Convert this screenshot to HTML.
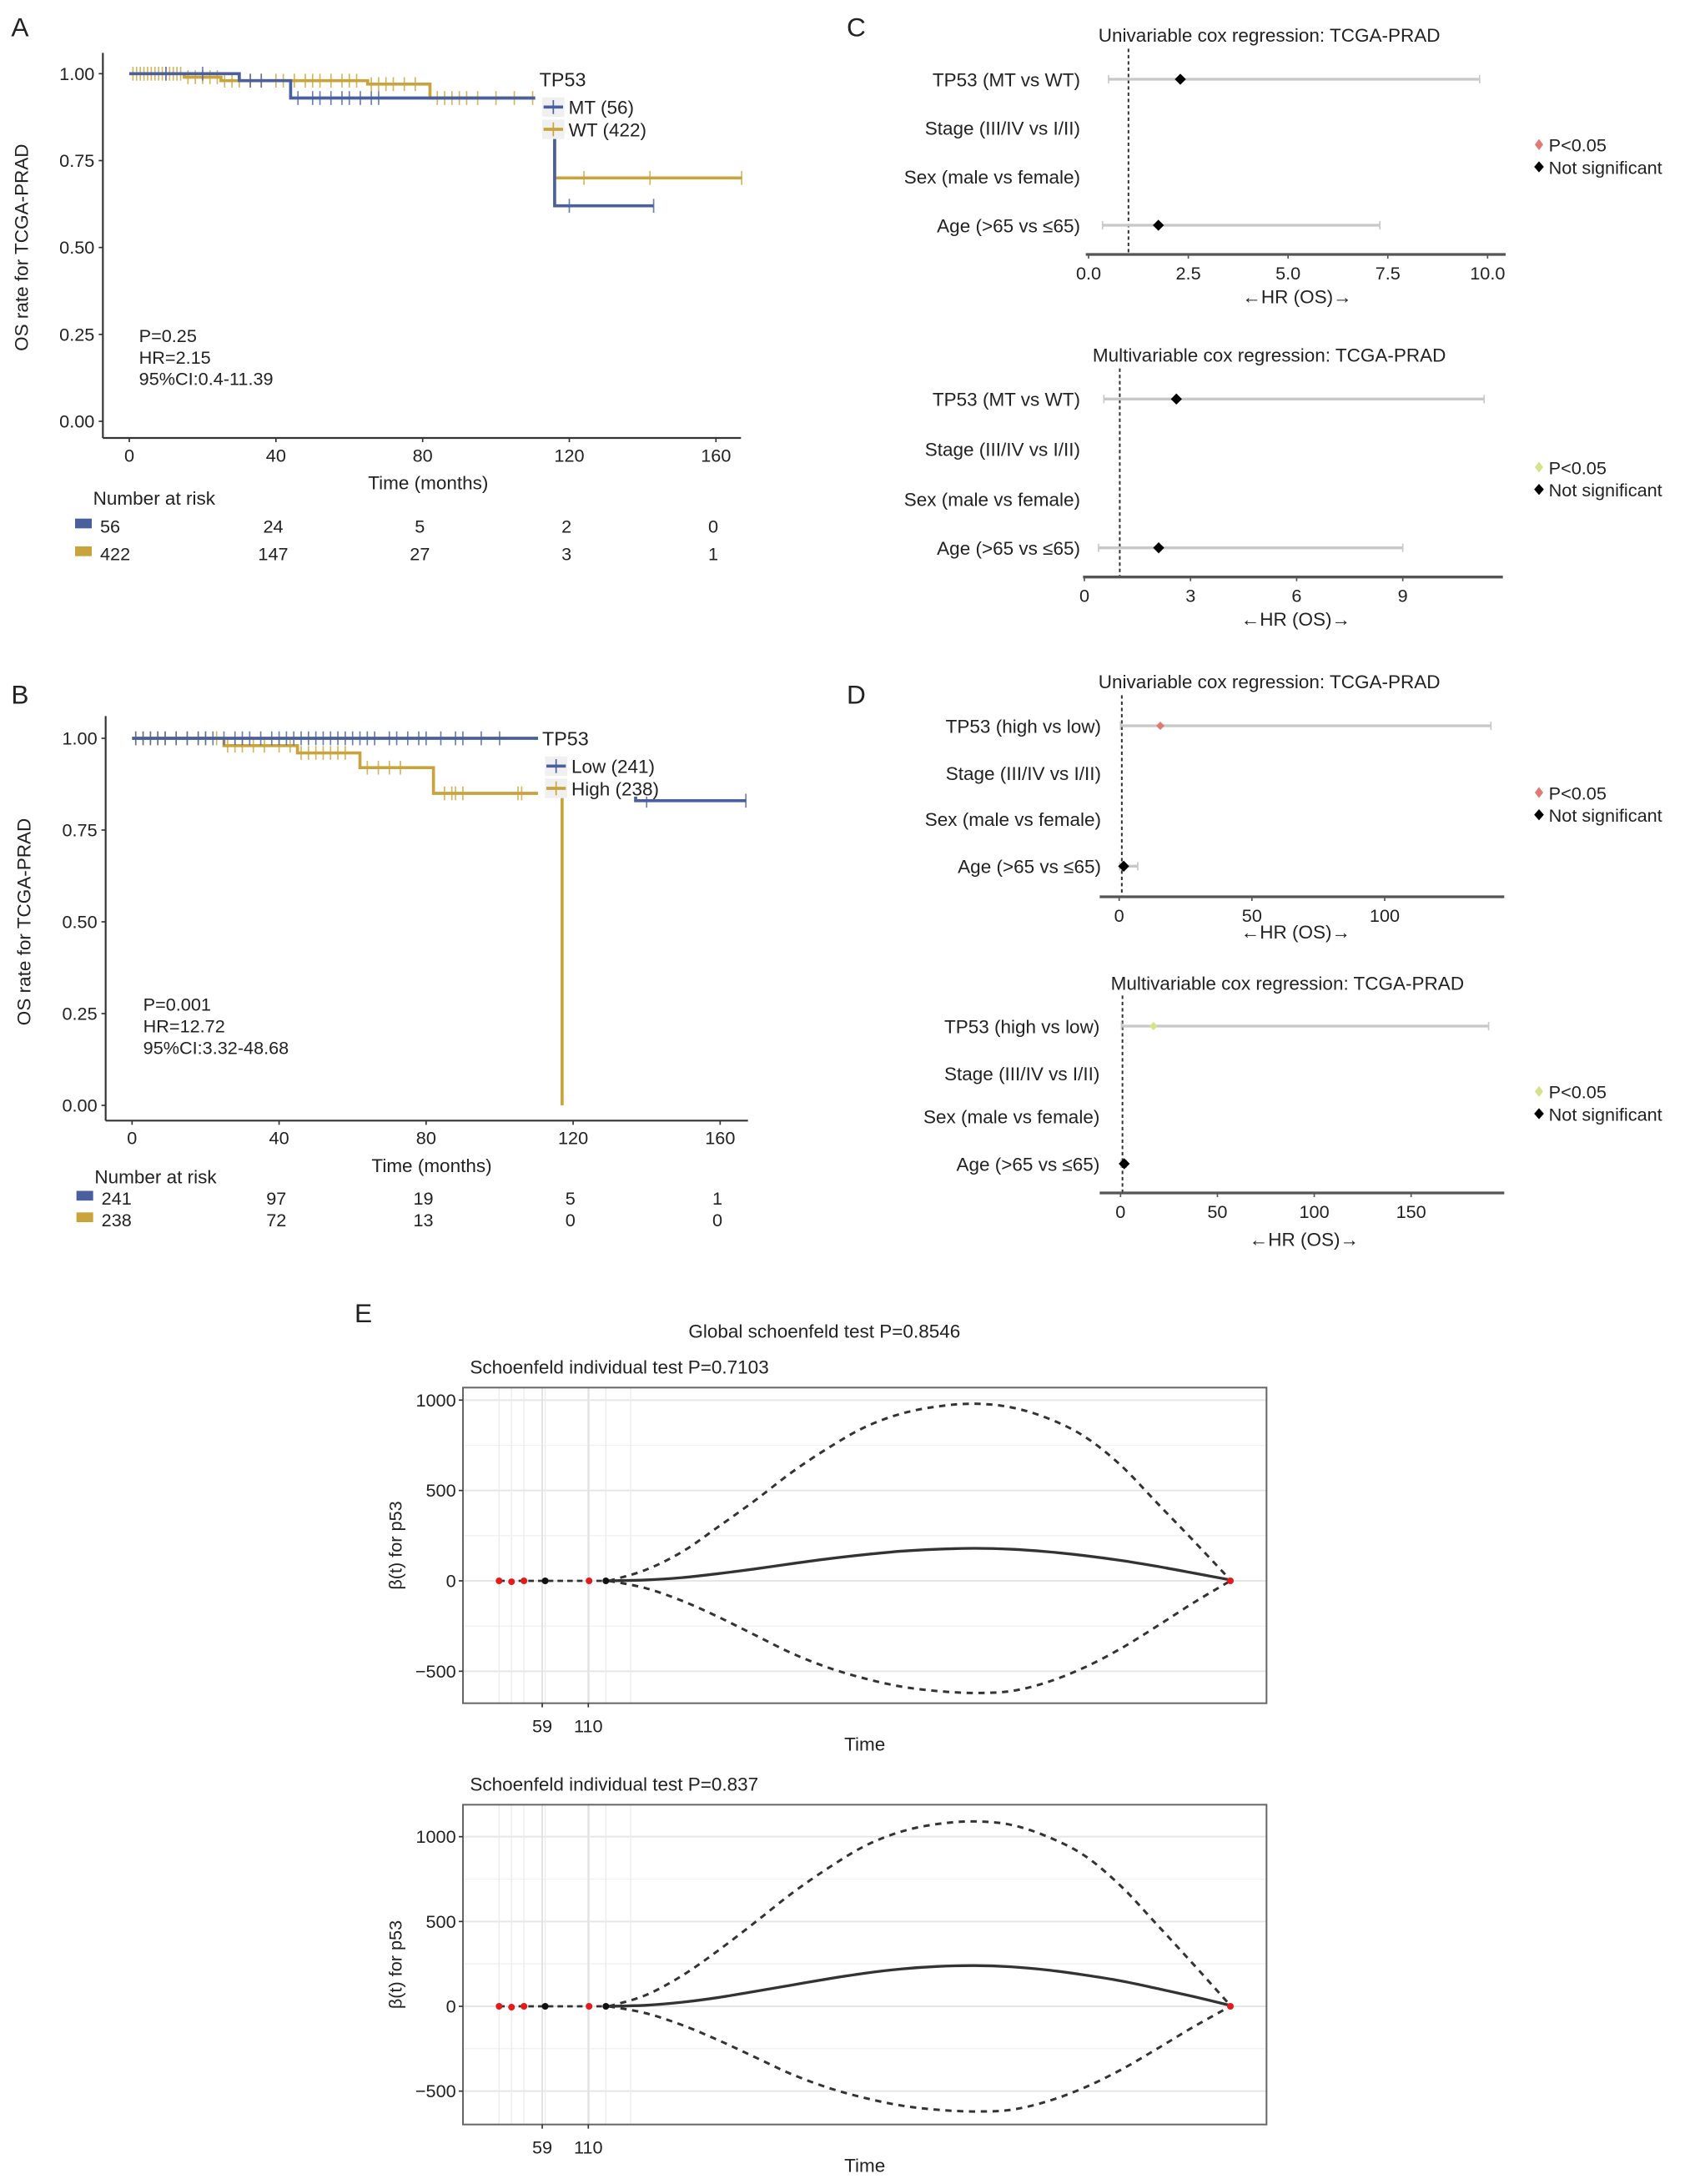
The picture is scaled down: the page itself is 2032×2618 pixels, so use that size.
<!DOCTYPE html>
<html><head><meta charset="utf-8">
<style>
html,body{margin:0;padding:0;background:#fff;}
svg{display:block;font-family:"Liberation Sans",Arial,sans-serif;}
</style></head>
<body>
<svg id="fig" width="2032" height="2618" viewBox="0 0 1219.2 1570.8" preserveAspectRatio="none" xmlns="http://www.w3.org/2000/svg">
<rect width="1219.2" height="1570.8" fill="#fff"/>
<g id="root"></g>
</svg>
<script>
// ===== Panel A data =====
const aTicksX=[0,40,80,120,160];
const aTicksY=[0,0.25,0.5,0.75,1];
const aMtT=[0,30,44,116,143];
const aMtS=[1,0.98,0.93,0.62,0.62];
const aWtT=[0,15,25,65,82,116,167];
const aWtS=[1,0.99,0.98,0.97,0.93,0.70,0.70];
const aMtCens=[10,20,33,36,46,50,52,55,58,60,63,66,68,120,143];
const aWtCens=[1,2,3,4,5,6,7,8,9,10,11,12,13,14,16,18,20,22,24,26,28,30,33,36,40,42,45,48,50,52,55,58,60,62,66,68,70,72,75,78,84,86,88,90,92,95,100,105,110,124,142,167];
const aRiskMt=[56,24,5,2,0];
const aRiskWt=[422,147,27,3,1];
// ===== Panel B data =====
const bLowT=[0,137,167];
const bLowS=[1,0.83,0.83];
const bHighT=[0,25,45,62,82,117,117];
const bHighS=[1,0.98,0.96,0.92,0.85,0.85,0];
const bLowCens=[1,3,5,7,9,12,15,18,20,22,25,28,30,32,35,38,40,42,44,46,48,50,52,54,56,58,60,62,64,66,70,72,75,78,80,84,88,90,95,100,140,167];
const bHighCens=[1,3,5,7,9,12,15,18,20,23,26,28,30,33,36,40,43,46,48,50,52,54,56,58,64,67,70,73,85,87,88,90,105,106];
const bRiskLow=[241,97,19,5,1];
const bRiskHigh=[238,72,13,0,0];
// ===== Forest data =====
const forestLabelsC=["TP53 (MT vs WT)","Stage (III/IV vs I/II)","Sex (male vs female)","Age (>65 vs \u226465)"];
const forestLabelsD=["TP53 (high vs low)","Stage (III/IV vs I/II)","Sex (male vs female)","Age (>65 vs \u226465)"];
const cUniHR=[2.3,null,null,1.75]; const cUniLo=[0.5,null,null,0.35]; const cUniHi=[9.8,null,null,7.3];
const cMulHR=[2.6,null,null,2.1]; const cMulLo=[0.55,null,null,0.4]; const cMulHi=[11.3,null,null,9.0];
const dUniHR=[15.5,null,null,1.7]; const dUniLo=[0.5,null,null,0.2]; const dUniHi=[140,null,null,7]; const dUniSig=[true,false,false,false];
const dMulHR=[17,null,null,1.9]; const dMulLo=[0.5,null,null,0.2]; const dMulHi=[190,null,null,3]; const dMulSig=[true,false,false,false];
// ===== Schoenfeld data =====
const eT=[15,20,25,30,35,40,45,50,55,60,65,70,75,80,85,90,95,100];
const e1Fit=[0,5,18,40,66,95,122,145,164,175,180,175,161,140,113,80,43,5];
const e1Up=[0,60,160,300,445,600,735,850,925,965,980,960,900,800,640,430,220,5];
const e1Lo=[0,-40,-110,-200,-300,-400,-480,-540,-585,-610,-620,-610,-560,-480,-375,-250,-120,0];
const e2Fit=[0,6,24,52,88,125,162,195,220,235,240,233,214,185,150,105,57,5];
const e2Up=[0,65,180,330,495,665,815,945,1030,1075,1090,1070,1000,890,710,480,245,5];
const e2Lo=[0,-40,-110,-200,-300,-400,-480,-540,-585,-610,-620,-610,-560,-480,-375,-250,-120,0];
const ePtsT=[0,1.7,3.4,6.3,12.3,14.6,100];
const ePtsV=[0,-5,0,0,0,0,0];
const ePtsRed=[true,true,true,false,true,false,true];
const eTickPos=[5.9,12.2]; const eTickLab=["59","110"];
const eYTicks=[-500,0,500,1000];

const NS="http://www.w3.org/2000/svg";
const root=document.getElementById('root');
function el(tag,attrs,parent,text){const e=document.createElementNS(NS,tag);for(const k in attrs)e.setAttribute(k,attrs[k]);if(text!==undefined)e.textContent=text;(parent||root).appendChild(e);return e;}
function txt(x,y,s,size,anchor,parent,extra){const t=el('text',Object.assign({x:x,y:y,'font-size':size,'text-anchor':anchor||'start',fill:'#222'},extra||{}),parent,s);return t;}
function lin(d0,d1,r0,r1){return v=>r0+(v-d0)/(d1-d0)*(r1-r0);}

const BLUE="#4a5f9e", GOLD="#c9a43c";

function km(cfg){
  const g=el('g',{},root);
  
  
  const X=lin(0,160,cfg.x0,cfg.x160), Y=lin(0,1,cfg.y0,cfg.y1);
  txt(cfg.lx,cfg.ly,cfg.letter,19,'start',g);
  const ax=el('line',{x1:cfg.axX,y1:cfg.axTop,x2:cfg.axX,y2:cfg.axY,stroke:'#333','stroke-width':1.3},g);
  
  const bx=el('line',{x1:cfg.axX,y1:cfg.axY,x2:cfg.axEnd,y2:cfg.axY,stroke:'#333','stroke-width':1.3},g);
  
  aTicksY.forEach(v=>{el('line',{x1:cfg.axX-3,x2:cfg.axX,y1:Y(v),y2:Y(v),stroke:'#333'},g);const t=txt(cfg.axX-6,Y(v)+4.5,v.toFixed(2),13,'end',g);});
  aTicksX.forEach(v=>{el('line',{x1:X(v),x2:X(v),y1:cfg.axY,y2:cfg.axY+3,stroke:'#333'},g);const t=txt(X(v),cfg.axY+17,String(v),13,'middle',g);});
  const xt=txt((cfg.x0+cfg.x160)/2+4,cfg.axY+37,'Time (months)',13.5,'middle',g);
  const yt=txt(0,0,'OS rate for TCGA-PRAD',13.5,'middle',g,{transform:`translate(${cfg.axX-54},${(Y(0)+Y(1))/2}) rotate(-90)`});
  function step(T,S,col,name,cens){
    let d=`M${X(T[0])},${Y(S[0])}`;
    for(let i=1;i<T.length;i++){d+=` H${X(T[i])} V${Y(S[i])}`;}
    const p=el('path',{d:d,fill:'none',stroke:col,'stroke-width':2.2},g);
    
    cens.forEach(t=>{let s=S[0];for(let i=0;i<T.length;i++){if(T[i]<=t)s=S[i];}
      if(t>=T[T.length-1]&&s===0)return;
      const m=el('line',{x1:X(t),x2:X(t),y1:Y(s)-5,y2:Y(s)+5,stroke:col,'stroke-width':1,opacity:0.8},g);
      });
  }
  step(cfg.t2,cfg.s2,GOLD,cfg.n2+'-curve',cfg.c2);
  step(cfg.t1,cfg.s1,BLUE,cfg.n1+'-curve',cfg.c1);
  const lg=el('g',{},g);
  el('rect',{x:cfg.legX-3,y:cfg.legY-15,width:cfg.legW,height:cfg.legH,fill:'#fff'},lg);
  txt(cfg.legX,cfg.legY,'TP53',14,'start',lg);
  [[BLUE,cfg.leg1],[GOLD,cfg.leg2]].forEach((e,i)=>{const yy=cfg.legY+14+i*16;
    el('rect',{x:cfg.legX+2,y:yy-6,width:16,height:14,fill:'#f0f0f0'},lg);
    el('line',{x1:cfg.legX+3,x2:cfg.legX+17,y1:yy+1,y2:yy+1,stroke:e[0],'stroke-width':2.2},lg);
    el('line',{x1:cfg.legX+10,x2:cfg.legX+10,y1:yy-4,y2:yy+6,stroke:e[0],'stroke-width':1},lg);
    const t=txt(cfg.legX+21,yy+6,e[1],13.5,'start',lg);});
  cfg.stats.forEach((s,i)=>txt(cfg.stX,cfg.stY+i*15.5,s,13,'start',g));
  txt(cfg.rkX,cfg.rkY,'Number at risk',13.5,'start',g);
  [[BLUE,cfg.r1],[GOLD,cfg.r2]].forEach((e,i)=>{const yy=cfg.rkY+cfg.rkDy*(i+1);
    el('rect',{x:cfg.rkX-13,y:yy-10,width:12,height:7,fill:e[0]},g);
    e[1].forEach((v,j)=>{const t=txt(j===0?cfg.rkX+5:X(aTicksX[j])-2,yy,String(v),13,j===0?'start':'middle',g);});});
}
km({name:'panel-a-km',letter:'A',lx:8,ly:26,x0:93,x160:515,y0:303,y1:53,axX:74,axTop:38,axY:315,axEnd:533,
 t1:aMtT,s1:aMtS,c1:aMtCens,n1:'mt',t2:aWtT,s2:aWtS,c2:aWtCens,n2:'wt',legX:388,legY:62,legW:92,legH:52,leg1:'MT (56)',leg2:'WT (422)',
 stats:['P=0.25','HR=2.15','95%CI:0.4-11.39'],stX:100,stY:246,rkX:67,rkY:363,rkDy:20,r1:aRiskMt,r2:aRiskWt});
km({name:'panel-b-km',letter:'B',lx:8,ly:506,x0:95,x160:518,y0:795,y1:531,axX:76,axTop:515,axY:806,axEnd:538,
 t1:bLowT,s1:bLowS,c1:bLowCens,n1:'low',t2:bHighT,s2:bHighS,c2:bHighCens,n2:'high',legX:390,legY:536,legW:94,legH:52,leg1:'Low (241)',leg2:'High (238)',
 stats:['P=0.001','HR=12.72','95%CI:3.32-48.68'],stX:103,stY:727,rkX:68,rkY:851,rkDy:15.5,r1:bRiskLow,r2:bRiskHigh});

function forest(cfg){
  const g=el('g',{},root);
  
  
  const X=lin(cfg.ticks[0],cfg.ticks[cfg.ticks.length-1],cfg.tx0,cfg.tx1);
  const t0=txt(cfg.titleX,cfg.titleY,cfg.title,13.5,'middle',g);
  cfg.labels.forEach((l,i)=>{const t=txt(cfg.labX,cfg.rows[i]+5,l,13.5,'end',g);});
  el('line',{x1:X(1),x2:X(1),y1:cfg.rows[0]-22,y2:cfg.axY,stroke:'#333','stroke-width':1.2,'stroke-dasharray':'2.5,2'},g);
  cfg.hr.forEach((h,i)=>{if(h===null)return;const y=cfg.rows[i];
    const ci=el('line',{x1:X(cfg.lo[i]),x2:X(cfg.hi[i]),y1:y,y2:y,stroke:'#c8c8c8','stroke-width':2},g);
    [cfg.lo[i],cfg.hi[i]].forEach(v=>el('line',{x1:X(v),x2:X(v),y1:y-3,y2:y+3,stroke:'#c8c8c8','stroke-width':1},g));
    const col=cfg.sig&&cfg.sig[i]?cfg.sigCol:'#000';const r=cfg.sig&&cfg.sig[i]?3:4;
    const p=el('path',{d:`M${X(h)},${y-r} L${X(h)+r},${y} L${X(h)},${y+r} L${X(h)-r},${y}Z`,fill:col},g);});
  const ax=el('line',{x1:cfg.ax0,x2:cfg.ax1,y1:cfg.axY,y2:cfg.axY,stroke:'#555','stroke-width':2},g);
  cfg.ticks.forEach((v,i)=>{el('line',{x1:X(v),x2:X(v),y1:cfg.axY,y2:cfg.axY+3,stroke:'#555'},g);const t=txt(X(v),cfg.axY+18,cfg.tickLab[i],13,'middle',g);});
  const xl=txt(cfg.xlX,cfg.xlY,'\u2190HR (OS)\u2192',13.5,'middle',g);
  const lg=el('g',{},g);
  el('path',{d:`M${cfg.legX},${cfg.legY-8} l3,4 l-3,4 l-3,-4z`,fill:cfg.sigCol},lg);
  txt(cfg.legX+7,cfg.legY+1,'P<0.05',13,'start',lg);
  el('path',{d:`M${cfg.legX},${cfg.legY+8} l3.5,4 l-3.5,4 l-3.5,-4z`,fill:'#000'},lg);
  txt(cfg.legX+7,cfg.legY+17,'Not significant',13,'start',lg);
}
forest({name:'c-univariable-forest',title:'Univariable cox regression: TCGA-PRAD',titleX:913,titleY:30,labels:forestLabelsC,labX:777,rows:[57,92,127,162],
 ticks:[0,2.5,5,7.5,10],tickLab:['0.0','2.5','5.0','7.5','10.0'],tx0:783,tx1:1070,ax0:781,ax1:1083,axY:183,hr:cUniHR,lo:cUniLo,hi:cUniHi,sig:null,sigCol:'#e07a74',xlX:933,xlY:218,legX:1107,legY:108});
forest({name:'c-multivariable-forest',title:'Multivariable cox regression: TCGA-PRAD',titleX:913,titleY:260,labels:forestLabelsC,labX:777,rows:[287,323,359,394],
 ticks:[0,3,6,9],tickLab:['0','3','6','9'],tx0:780,tx1:1009,ax0:779,ax1:1081,axY:415,hr:cMulHR,lo:cMulLo,hi:cMulHi,sig:null,sigCol:'#d8e28a',xlX:932,xlY:450,legX:1107,legY:340});
forest({name:'d-univariable-forest',title:'Univariable cox regression: TCGA-PRAD',titleX:913,titleY:495,labels:forestLabelsD,labX:792,rows:[522,556,589,623],
 ticks:[0,50,100],tickLab:['0','50','100'],tx0:805,tx1:996,ax0:791,ax1:1082,axY:645,hr:dUniHR,lo:dUniLo,hi:dUniHi,sig:dUniSig,sigCol:'#e07a74',xlX:932,xlY:675,legX:1107,legY:574});
forest({name:'d-multivariable-forest',title:'Multivariable cox regression: TCGA-PRAD',titleX:926,titleY:712,labels:forestLabelsD,labX:791,rows:[738,772,803,837],
 ticks:[0,50,100,150],tickLab:['0','50','100','150'],tx0:806,tx1:1015,ax0:791,ax1:1082,axY:858,hr:dMulHR,lo:dMulLo,hi:dMulHi,sig:dMulSig,sigCol:'#d8e28a',xlX:938,xlY:896,legX:1107,legY:789});
txt(609,26,'C',19,'start');
txt(609,506,'D',19,'start');

txt(255,951,'E',19,'start');
const gt=txt(593,962,'Global schoenfeld test P=0.8546',13.5,'middle');
function smooth(pts){let d=`M${pts[0][0]},${pts[0][1]}`;for(let i=0;i<pts.length-1;i++){const p0=pts[i-1]||pts[i],p1=pts[i],p2=pts[i+1],p3=pts[i+2]||p2;
  d+=` C${p1[0]+(p2[0]-p0[0])/6},${p1[1]+(p2[1]-p0[1])/6} ${p2[0]-(p3[0]-p1[0])/6},${p2[1]-(p3[1]-p1[1])/6} ${p2[0]},${p2[1]}`;}return d;}
function schoen(cfg){
  const g=el('g',{},root);
  
  
  const X=lin(0,100,359,885), Y=lin(0,1000,cfg.y0,cfg.y1000);
  const t=txt(338,cfg.titleY,cfg.title,13.5,'start',g);
  for(let v=-750;v<=1000;v+=250){const y=Y(v);if(y<cfg.top||y>cfg.bot)continue;el('line',{x1:333,x2:911,y1:y,y2:y,stroke:v%500===0?'#e6e6e6':'#f1f1f1','stroke-width':v%500===0?1.2:0.8},g);}
  ePtsT.slice(0,6).concat([18]).forEach(v=>el('line',{x1:X(v),x2:X(v),y1:cfg.top,y2:cfg.bot,stroke:'#ececec','stroke-width':0.8},g));
  eTickPos.forEach(v=>el('line',{x1:X(v),x2:X(v),y1:cfg.top,y2:cfg.bot,stroke:'#e2e2e2','stroke-width':1.2},g));
  const fr=el('rect',{x:333,y:cfg.top,width:578,height:cfg.bot-cfg.top,fill:'none',stroke:'#666','stroke-width':1.2},g);
  eYTicks.forEach(v=>{el('line',{x1:330,x2:333,y1:Y(v),y2:Y(v),stroke:'#333'},g);const tt=txt(328,Y(v)+4.5,v<0?'\u2212'+Math.abs(v):String(v),13,'end',g);});
  eTickPos.forEach((v,i)=>{el('line',{x1:X(v),x2:X(v),y1:cfg.bot,y2:cfg.bot+3,stroke:'#333'},g);const tt=txt(X(v),cfg.bot+21,eTickLab[i],13,'middle',g);});
  const xt=txt(622,cfg.bot+34,'Time',13.5,'middle',g);
  const yt=txt(0,0,'\u03B2(t) for p53',13,'middle',g,{transform:`translate(${289},${(cfg.top+cfg.bot)/2}) rotate(-90)`});
  el('line',{x1:X(0),x2:X(15),y1:Y(0),y2:Y(0),stroke:'#333','stroke-width':1.6,'stroke-dasharray':'4,3'},g);
  [[cfg.up,'upper-ci','4.5,4'],[cfg.lo,'lower-ci','4.5,4'],[cfg.fit,'fit-line',null]].forEach(s=>{
    const p=el('path',{d:smooth(eT.map((t,i)=>[X(t),Y(s[0][i])])),fill:'none',stroke:'#333','stroke-width':s[2]?1.8:2},g);
    if(s[2])p.setAttribute('stroke-dasharray',s[2]);
    });
  ePtsT.forEach((t,i)=>{const c=el('circle',{cx:X(t),cy:Y(ePtsV[i]),r:2.4,fill:ePtsRed[i]?'#e41a1c':'#111'},g);});
}
schoen({name:'e-schoenfeld-plot-1',title:'Schoenfeld individual test P=0.7103',titleY:988,top:998,bot:1225,y0:1137,y1000:1007,fit:e1Fit,up:e1Up,lo:e1Lo});
schoen({name:'e-schoenfeld-plot-2',title:'Schoenfeld individual test P=0.837',titleY:1288,top:1298,bot:1528,y0:1443,y1000:1321,fit:e2Fit,up:e2Up,lo:e2Lo});
</script>
</body></html>
